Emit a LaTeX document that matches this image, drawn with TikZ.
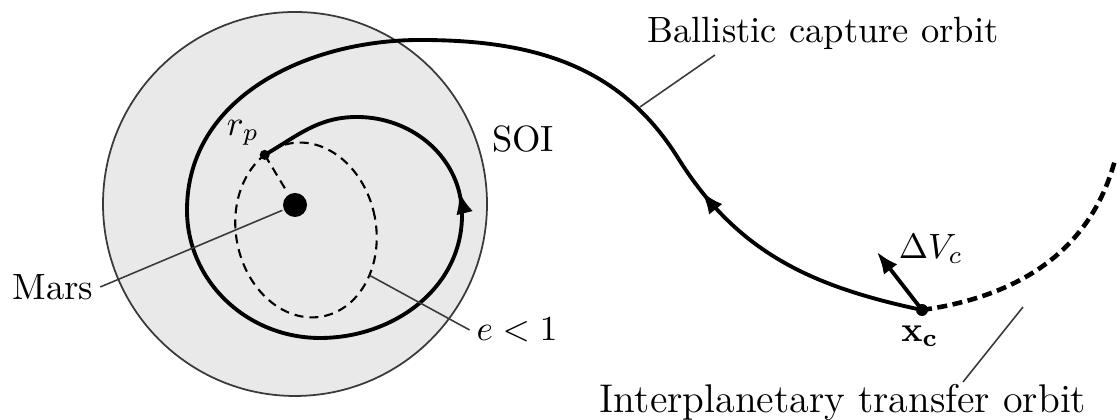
\documentclass[tikz,border=0pt]{standalone}
\usetikzlibrary{arrows.meta, decorations.markings}
\definecolor{csoi}{HTML}{E9E9E9}
\definecolor{cline}{HTML}{3A3A3A}
\tikzset{
  every picture/.style={line width=1pt},
  every node/.style={font=\fontsize{10.4}{12.5}\selectfont, inner sep=1.5pt},
  orbit/.style={line width=1.1pt},
  transfer/.style={line width=1.3pt, dash pattern=on 1mm off 0.55mm},
  kepler/.style={line width=0.6pt, dash pattern=on 0.9mm off 0.6mm},
  leader/.style={line width=0.45pt, draw=cline},
  dot/.style={circle, fill, inner sep=0pt, minimum size=#1},
  dot/.default=1mm,
  tip/.style={-{Latex[length=2.2mm, width=1.7mm]}},
  midarrow/.style={postaction={decorate, decoration={markings,
    mark=at position #1 with {\arrow{Latex[length=2.2mm, width=1.7mm]}}}}},
}

\begin{document}
\begin{tikzpicture}
  \useasboundingbox (0,0) rectangle (11.17,4.2);
  % sphere of influence
  \draw[line width=0.5pt, draw=cline, fill=csoi] (2.95,2.16) circle (1.92);
  % osculating ellipse
  \begin{scope}[shift={(3.06,1.90)}, rotate=11]
    \draw[kepler] (0,0) ellipse (0.70 and 0.88);
    \coordinate (rp) at (112:0.70 and 0.88);
    \coordinate (ecc) at (-40:0.70 and 0.88);
  \end{scope}
  \node[dot=2.4mm] (mars) at (2.95,2.15) {};
  \draw[kepler] (rp) -- (mars);

  % capture trajectory
  \coordinate (xc) at (9.22,1.10);
  \coordinate (infl) at (6.78,2.62);
  \coordinate (apo) at (4.20,3.80);
  \coordinate (west) at (1.87,2.10);
  \coordinate (south) at (3.20,0.82);
  \coordinate (east) at (4.62,2.05);
  \coordinate (inner) at (3.57,3.03);
  \draw[orbit, midarrow=0.86] (xc) to[out=168, in=-58] (infl);
  \draw[orbit] (infl) to[out=122, in=0] (apo) to[out=180, in=90] (west)
    to[out=270, in=180] (south) to[out=0, in=270] (east);
  \draw[orbit, midarrow=0.09] (east) to[out=90, in=0] (inner) to[out=180, in=30] (rp);
  \node[dot] at (rp) {};

  % transfer orbit and manoeuvre
  \coordinate (edge) at (11.15,2.60);
  \draw[transfer] (xc) to[out=8, in=255] (edge);
  \coordinate (dv) at (8.77,1.68);
  \draw[orbit, tip] (xc) -- (dv);
  \node[dot=1.2mm] at (xc) {};

  % labels
  \node (soi) at (5.23,2.81) {SOI};
  \node (rplbl) at (2.43,2.87) {$r_p$};
  \node (marslbl) at (0.53,1.33) {Mars};
  \node (elbl) at (5.17,0.90) {$e<1$};
  \node (dvlbl) at (9.31,1.71) {$\Delta V_c$};
  \node (xclbl) at (9.20,0.84) {$\mathbf{x_c}$};
  \node[anchor=base] (bclbl) at (8.23,3.77) {Ballistic capture orbit};
  \node[anchor=base, font=\fontsize{11.4}{13.5}\selectfont] (itlbl) at (8.43,0.07) {Interplanetary transfer orbit};

  % leader lines
  \draw[leader] (marslbl.east) -- (mars);
  \draw[leader] (ecc) -- (elbl.west);
  \coordinate (bc1) at (6.40,3.13);
  \coordinate (bc2) at (7.15,3.65);
  \draw[leader] (bc1) -- (bc2);
  \coordinate (it1) at (9.63,0.38);
  \coordinate (it2) at (10.23,1.13);
  \draw[leader] (it1) -- (it2);
\end{tikzpicture}
\end{document}
